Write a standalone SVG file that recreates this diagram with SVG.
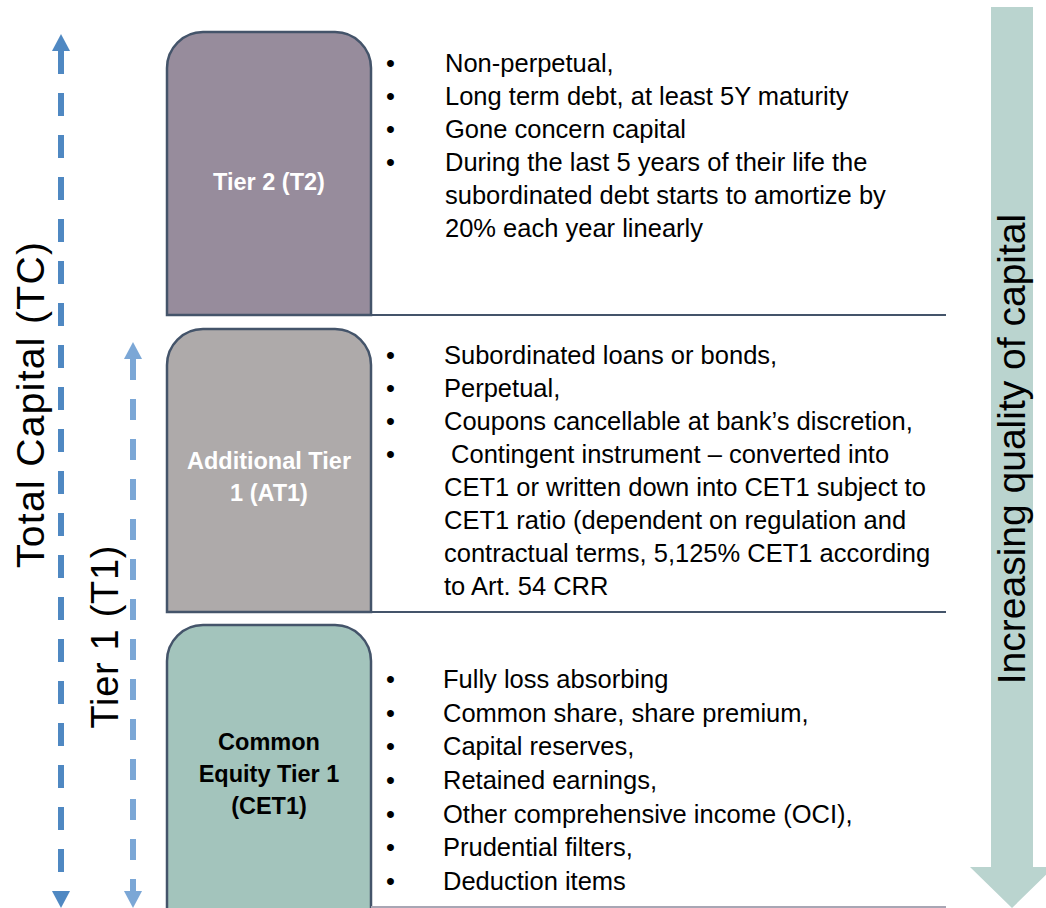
<svg xmlns="http://www.w3.org/2000/svg" width="1046" height="908" viewBox="0 0 1046 908">
<style>
text{font-family:"Liberation Sans",Arial,sans-serif}
.body{font-size:25.5px;fill:#000}
.lbl{font-size:23.5px;font-weight:bold;text-anchor:middle}
.side{fill:#000;text-anchor:middle}
.box{stroke:#44546a;stroke-width:2.5}
.sep{stroke:#44546a;stroke-width:2;fill:none}
.dashA{stroke:#4f88c2;stroke-width:6;stroke-dasharray:23 19;fill:none}
.dashB{stroke:#7ba7d6;stroke-width:6;stroke-dasharray:21 19;fill:none}
</style>
<defs>
<marker id="headA" markerUnits="userSpaceOnUse" markerWidth="18" markerHeight="18" refX="0" refY="9" orient="auto-start-reverse" viewBox="0 0 18 18"><path d="M0,0 L17,9 L0,18 Z" fill="#4f88c2"/></marker>
<marker id="headB" markerUnits="userSpaceOnUse" markerWidth="18" markerHeight="18" refX="0" refY="9" orient="auto-start-reverse" viewBox="0 0 18 18"><path d="M0,0 L17,9 L0,18 Z" fill="#7ba7d6"/></marker>
</defs>
<rect width="1046" height="908" fill="#fff"/>

<g id="quality-arrow">
<path d="M991,7 H1033 V867 H1054 L1012,908 L970,867 H991 Z" fill="#bad4cf"/>
<text class="side" transform="translate(1025,449) rotate(-90)" style="font-size:39px">Increasing quality of capital</text>
</g>

<g id="connectors">
<line class="dashA" x1="61" y1="51" x2="61" y2="891" marker-start="url(#headA)" marker-end="url(#headA)"/>
<line class="dashB" x1="133" y1="359" x2="133" y2="891" marker-start="url(#headB)" marker-end="url(#headB)"/>
</g>

<g id="label-tc"><text class="side" transform="translate(44,405) rotate(-90)" style="font-size:39px" textLength="326" lengthAdjust="spacing">Total Capital (TC)</text></g>
<g id="label-t1"><text class="side" transform="translate(118,637) rotate(-90)" style="font-size:38px" textLength="183" lengthAdjust="spacing">Tier 1 (T1)</text></g>

<g id="tier2">
<path class="box" d="M167,315 V68 A36,36 0 0 1 203,32 H335 A36,36 0 0 1 371,68 V315 Z" fill="#978c9c"/>
<line class="sep" x1="167" y1="315" x2="946" y2="315"/>
<text class="lbl" x="269" y="190" fill="#fff">Tier 2 (T2)</text>
<g class="body">
<text x="386" y="72">•</text><text x="445" y="72">Non-perpetual,</text>
<text x="386" y="105">•</text><text x="445" y="105">Long term debt, at least 5Y maturity</text>
<text x="386" y="138">•</text><text x="445" y="138">Gone concern capital</text>
<text x="386" y="171">•</text><text x="445" y="171">During the last 5 years of their life the</text>
<text x="445" y="204">subordinated debt starts to amortize by</text>
<text x="445" y="237">20% each year linearly</text>
</g>
</g>

<g id="at1">
<path class="box" d="M167,612 V365 A36,36 0 0 1 203,329 H335 A36,36 0 0 1 371,365 V612 Z" fill="#aeaaaa"/>
<line class="sep" x1="167" y1="612" x2="946" y2="612"/>
<text class="lbl" x="269" y="469" fill="#fff">Additional Tier</text>
<text class="lbl" x="269" y="501" fill="#fff">1 (AT1)</text>
<g class="body">
<text x="386" y="364">•</text><text x="444" y="364">Subordinated loans or bonds,</text>
<text x="386" y="397">•</text><text x="444" y="397">Perpetual,</text>
<text x="386" y="430">•</text><text x="444" y="430">Coupons cancellable at bank’s discretion,</text>
<text x="386" y="463">•</text><text x="444" y="463" xml:space="preserve"> Contingent instrument – converted into</text>
<text x="444" y="496">CET1 or written down into CET1 subject to</text>
<text x="444" y="529">CET1 ratio (dependent on regulation and</text>
<text x="444" y="562">contractual terms, 5,125% CET1 according</text>
<text x="444" y="595">to Art. 54 CRR</text>
</g>
</g>

<g id="cet1">
<path class="box" d="M167,910 V661 A36,36 0 0 1 203,625 H335 A36,36 0 0 1 371,661 V910 Z" fill="#a3c4bc"/>
<line x1="371" y1="907" x2="946" y2="907" stroke="#a8a6b4" stroke-width="2"/>
<text class="lbl" x="269" y="750" fill="#000">Common</text>
<text class="lbl" x="269" y="782" fill="#000">Equity Tier 1</text>
<text class="lbl" x="269" y="814" fill="#000">(CET1)</text>
<g class="body">
<text x="386" y="688">•</text><text x="443" y="688">Fully loss absorbing</text>
<text x="386" y="722">•</text><text x="443" y="722">Common share, share premium,</text>
<text x="386" y="755">•</text><text x="443" y="755">Capital reserves,</text>
<text x="386" y="789">•</text><text x="443" y="789">Retained earnings,</text>
<text x="386" y="823">•</text><text x="443" y="823">Other comprehensive income (OCI),</text>
<text x="386" y="856">•</text><text x="443" y="856">Prudential filters,</text>
<text x="386" y="890">•</text><text x="443" y="890">Deduction items</text>
</g>
</g>
</svg>
